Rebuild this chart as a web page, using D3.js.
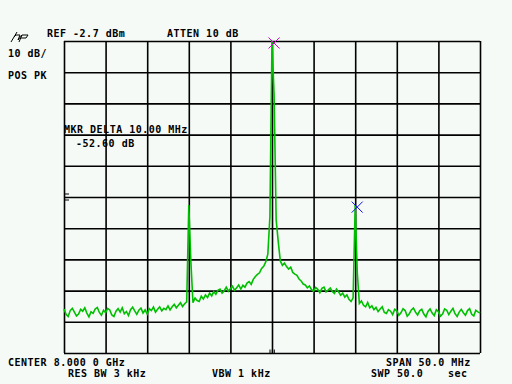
<!DOCTYPE html>
<html>
<head>
<meta charset="utf-8">
<script src="https://cdn.jsdelivr.net/npm/d3@7"></script>
<style>
  html, body { margin: 0; padding: 0; background: #f5faf6; }
  svg { display: block; }
  text {
    font-family: "DejaVu Sans Mono", monospace;
    font-size: 10px;
    font-weight: bold;
    letter-spacing: 0.5px;
    fill: #000;
  }
</style>
</head>
<body>
<svg id="chart" width="512" height="384"></svg>
<script>
// Analyzer settings
const refLevelDbm = -2.7;
const dbPerDiv = 10;
const centerMHz = 8000;
const spanMHz = 50;

// Trace, dBm, 201 points across the span
const traceDbm = [
  -88.6, -90.3, -91.0, -89.1, -88.4, -89.6, -90.8, -90.2, -88.7, -89.3,
  -88.2, -89.9, -91.1, -89.5, -90.0, -88.6, -88.1, -89.7, -90.6, -89.0,
  -89.8, -88.4, -88.9, -90.5, -91.0, -89.3, -88.5, -89.6, -88.2, -90.1,
  -89.4, -90.7, -88.8, -88.0, -89.2, -90.3, -89.0, -88.3, -89.9, -88.9,
  -90.2, -88.5, -89.1, -88.0, -89.6, -88.7, -87.9, -89.2, -88.4, -88.8,
  -87.6, -88.9, -87.9, -87.1, -88.2, -87.4, -86.6, -87.8, -86.9, -86.3,
  -55.3, -73.5, -86.6, -85.1, -85.9, -86.2, -84.5, -85.4, -84.1, -84.9,
  -83.5, -84.4, -83.0, -83.9, -82.6, -82.2, -83.5, -82.8, -81.6, -82.9,
  -82.1, -81.3, -82.6, -81.8, -80.9, -82.2, -81.0, -81.6, -80.3, -79.8,
  -80.7, -79.1, -78.2, -77.5, -77.0, -75.6, -74.9, -73.5, -71.0, -59.0,
  -2.7, -20.0, -60.0, -67.0, -73.2, -74.6, -73.9, -75.0, -75.8, -75.2,
  -76.9, -77.4, -77.8, -79.0, -79.6, -80.6, -80.9, -81.8, -81.2, -82.4,
  -82.9, -81.7, -82.3, -83.4, -82.0, -81.6, -83.1, -82.5, -81.9, -83.0,
  -83.6, -82.2, -83.1, -84.2, -83.5, -84.8, -84.1, -85.5, -86.2, -85.0,
  -55.3, -77.0, -86.8, -86.0, -87.4, -87.9, -86.5, -88.2, -87.6, -88.8,
  -88.1, -89.4, -88.6, -87.9, -89.7, -90.0, -88.8, -89.3, -90.4, -88.7,
  -89.2, -90.6, -89.8, -88.5, -89.1, -90.9, -90.1, -88.9, -88.3, -89.6,
  -90.5, -89.2, -88.7, -90.2, -91.1, -89.4, -88.6, -89.9, -90.7, -88.8,
  -89.5, -90.9, -90.2, -88.6, -89.0, -90.4, -89.3, -88.4, -90.1, -91.0,
  -89.6, -88.7, -89.8, -90.6, -89.1, -88.5, -90.3, -90.8, -89.0, -89.5,
  -89.9
];

// Markers: main on the carrier, delta on the +10 MHz spur
const markerFreqs = [8000, 8010];
const markerDbm = [-2.7, -55.3];
const markerColors = ['#d400d4', '#1010e0'];

// Screen annotations
const labels = [
  { t: 'REF -2.7 dBm', x: 47, y: 36.5 },
  { t: 'ATTEN 10 dB', x: 167, y: 36.5 },
  { t: '10 dB/', x: 8, y: 57 },
  { t: 'POS PK', x: 8, y: 79 },
  { t: 'MKR DELTA 10.00 MHz', x: 64, y: 133.3 },
  { t: '-52.60 dB', x: 76, y: 147 },
  { t: 'CENTER 8.000 0 GHz', x: 8, y: 365.5 },
  { t: 'SPAN 50.0 MHz', x: 386, y: 365.5 },
  { t: 'RES BW 3 kHz', x: 68, y: 376.5 },
  { t: 'VBW 1 kHz', x: 212, y: 376.5 },
  { t: 'SWP 50.0', x: 371, y: 376.5 },
  { t: 'sec', x: 448, y: 376.5 }
];

const svg = d3.select('#chart');
const plotLeft = 64, plotRight = 480, plotTop = 41, plotBottom = 353;
const plotW = plotRight - plotLeft, plotH = plotBottom - plotTop;

const x = d3.scaleLinear()
  .domain([centerMHz - spanMHz / 2, centerMHz + spanMHz / 2])
  .range([plotLeft, plotRight]);
const y = d3.scaleLinear()
  .domain([refLevelDbm - 10 * dbPerDiv, refLevelDbm])
  .range([plotBottom, plotTop]);
// trace points are evenly spread over the span
const xi = d3.scaleLinear().domain([0, traceDbm.length - 1]).range(x.range());

// graticule
const gx = svg.append('g')
  .attr('transform', `translate(0,${plotBottom})`)
  .call(d3.axisBottom(x).tickValues(d3.range(0, 11).map(d => x.invert(plotLeft + d * plotW / 10)))
    .tickSize(-plotH).tickFormat(''));
const gy = svg.append('g')
  .attr('transform', `translate(${plotLeft},0)`)
  .call(d3.axisLeft(y).tickValues(d3.range(0, 11).map(d => refLevelDbm - d * dbPerDiv))
    .tickSize(-plotW).tickFormat(''));
[gx, gy].forEach(g => {
  g.select('.domain').remove();
  g.selectAll('.tick line').attr('stroke', '#000').attr('stroke-width', 1.6);
});

// reference-level ticks on left edge and center marks at the bottom
const midY = y(refLevelDbm - 5 * dbPerDiv);
svg.append('g').attr('stroke', '#000').attr('stroke-width', 1)
  .selectAll('line').data([-3, 3]).join('line')
  .attr('x1', plotLeft).attr('x2', plotLeft + 5)
  .attr('y1', d => midY + d).attr('y2', d => midY + d);
svg.append('g').attr('stroke', '#000').attr('stroke-width', 1)
  .selectAll('line').data([-2, 0.3, 2.3]).join('line')
  .attr('x1', d => x(centerMHz) + d).attr('x2', d => x(centerMHz) + d)
  .attr('y1', plotBottom - 3.5).attr('y2', plotBottom);

// trace
const line = d3.line()
  .x((d, i) => xi(i))
  .y(d => y(d));
svg.append('path')
  .datum(traceDbm)
  .attr('fill', 'none')
  .attr('stroke', '#00bf00')
  .attr('stroke-width', 1.6)
  .attr('d', line);

// markers
svg.append('g').selectAll('path').data(markerFreqs).join('path')
  .attr('transform', (d, i) => `translate(${x(d) + 2},${y(markerDbm[i]) + 2})`)
  .attr('d', 'M-5.5,-5.5L5.5,5.5M5.5,-5.5L-5.5,5.5')
  .attr('fill', 'none')
  .attr('stroke', (d, i) => markerColors[i])
  .attr('stroke-width', 1);

// hp logo
const logo = svg.append('g').attr('transform', 'translate(11,42)')
  .attr('fill', 'none').attr('stroke', '#000').attr('stroke-width', 1);
logo.append('path').attr('d', 'M0,0L6,-10M3,-5L5,-7L9,-7L7,-2');
logo.append('path').attr('d', 'M7,-2L11,-7L17,-7L15,-4L10,-4M11,-7L8,0');

// text
svg.append('g').selectAll('text').data(labels).join('text')
  .attr('x', d => d.x).attr('y', d => d.y)
  .text(d => d.t);
</script>
</body>
</html>
